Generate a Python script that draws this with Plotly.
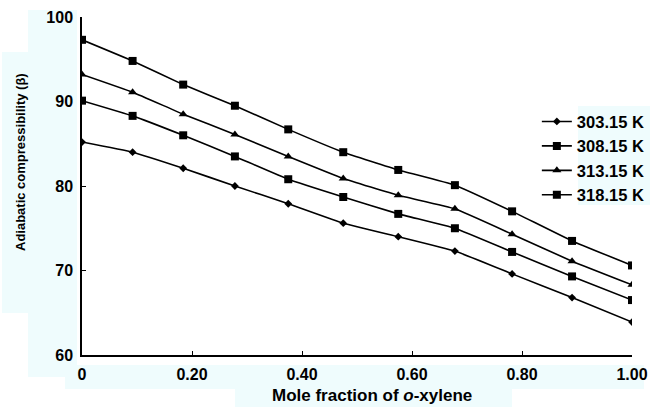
import plotly.graph_objects as go

x_frac = [0, 0.092, 0.184, 0.278, 0.375, 0.475, 0.575, 0.678, 0.782, 0.891, 1.0]
t303 = [85.2, 84.0, 82.1, 80.0, 77.9, 75.6, 74.0, 72.3, 69.6, 66.8, 63.9]
t308 = [90.1, 88.3, 86.0, 83.5, 80.8, 78.7, 76.7, 75.0, 72.2, 69.3, 66.5]
t313 = [93.2, 91.1, 88.5, 86.1, 83.5, 80.9, 78.9, 77.3, 74.3, 71.1, 68.3]
t318 = [97.3, 94.8, 92.0, 89.5, 86.7, 84.0, 81.9, 80.1, 77.0, 73.5, 70.6]
series_names = ["303.15 K", "308.15 K", "313.15 K", "318.15 K"]
series_vals = [t303, t308, t313, t318]
symbols = ["diamond", "square", "triangle-up", "square"]
sizes = [6, 8, 8, 8]
x_ticks = [0, 0.2, 0.4, 0.6, 0.8, 1.0]
x_ticklabels = ["0", "0.20", "0.40", "0.60", "0.80", "1.00"]
y_ticks = [60, 70, 80, 90, 100]

FONT = "Liberation Sans"
fig = go.Figure()
for name, vals, sym, sz in zip(series_names, series_vals, symbols, sizes):
    fig.add_trace(go.Scatter(
        x=x_frac, y=vals, name=name, mode="lines+markers",
        line=dict(color="black", width=1.6, shape="spline", smoothing=0.3),
        marker=dict(symbol=sym, size=sz, color="black"),
    ))

cyan = "#effcfd"
bg_rects = [
    (28, 10, 77, 52), (2, 52, 77, 313), (28, 313, 77, 377),
    (65, 365, 644, 389), (235, 389, 512, 407), (578, 106, 650, 205),
]
W, H = 650, 407
L, R, T, B = 82, 18, 17, 52
pw, ph = W - L - R, H - T - B
for x0, y0, x1, y1 in bg_rects:
    fig.add_shape(type="rect", xref="paper", yref="paper", layer="below",
                  x0=(x0 - L) / pw, x1=(x1 - L) / pw,
                  y0=(H - B - y1) / ph, y1=(H - B - y0) / ph,
                  line=dict(width=0), fillcolor=cyan)

fig.add_annotation(xref="paper", yref="paper", x=(20 - L) / pw, y=(H - B - 162) / ph,
                   text="Adiabatic compressibility (β)", textangle=-90, showarrow=False,
                   font=dict(family=FONT, size=13, color="black", weight="bold"),
                   xanchor="center", yanchor="middle")
fig.add_annotation(xref="paper", yref="paper", x=(372 - L) / pw, y=(H - B - 395) / ph,
                   text="Mole fraction of <i>o</i>-xylene", showarrow=False,
                   font=dict(family=FONT, size=17, color="black", weight="bold"),
                   xanchor="center", yanchor="middle")

fig.update_layout(
    width=W, height=H,
    margin=dict(l=L, r=R, t=T, b=B, autoexpand=False),
    paper_bgcolor="white", plot_bgcolor="rgba(0,0,0,0)",
    showlegend=True,
    legend=dict(x=0.827, y=0.742, xanchor="left", yanchor="top",
                bgcolor="rgba(0,0,0,0)", itemwidth=30, tracegroupgap=0,
                font=dict(family=FONT, size=16.5, color="black", weight="bold")),
    xaxis=dict(range=[0, 1.0], tickvals=x_ticks, ticktext=x_ticklabels,
               showgrid=False, zeroline=False, showline=True, linecolor="black",
               linewidth=1.5, ticks="inside", ticklen=4, tickcolor="black",
               ticklabelstandoff=4,
               tickfont=dict(family=FONT, size=16, color="black", weight="bold")),
    yaxis=dict(range=[60, 100], tickvals=y_ticks,
               showgrid=False, zeroline=False, showline=True, linecolor="black",
               linewidth=1.5, ticks="inside", ticklen=4, tickcolor="black",
               ticklabelstandoff=4,
               tickfont=dict(family=FONT, size=16, color="black", weight="bold")),
)
fig.write_html("out.html")
